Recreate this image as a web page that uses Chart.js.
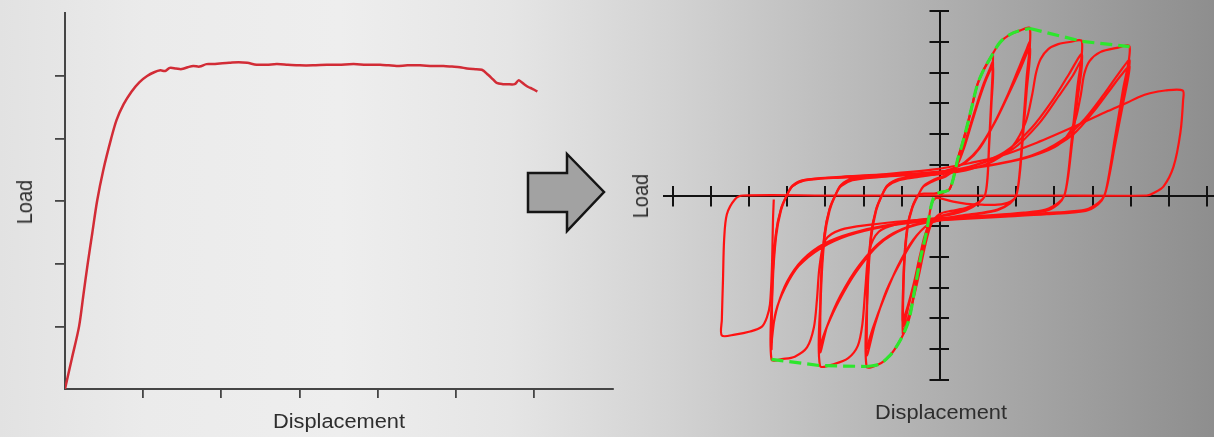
<!DOCTYPE html>
<html>
<head>
<meta charset="utf-8">
<title>Monotonic vs cyclic load–displacement</title>
<script src="https://cdn.jsdelivr.net/npm/chart.js@4.4.1/dist/chart.umd.min.js"></script>
<style>
  html, body { margin: 0; padding: 0; }
  body {
    width: 1214px; height: 437px; overflow: hidden; position: relative;
    background: linear-gradient(to right, #e2e2e2 0%, #ebebeb 12%, #eeeeee 28%, #e5e5e5 42%, #d3d3d3 55%, #bebebe 68%, #a8a8a8 82%, #8e8e8e 100%);
  }
  #monoBox { position: absolute; left: 0; top: 0; width: 620px; height: 437px; }
  #cycBox  { position: absolute; left: 620px; top: 0; width: 594px; height: 437px; }
  .lbl {
    position: absolute; font-family: "Liberation Sans", Arial, sans-serif;
    font-size: 20px; line-height: 20px; color: #2e2e2e; white-space: nowrap;
  }
  #arrow { position: absolute; left: 0; top: 0; pointer-events: none; }
</style>
</head>
<body>
<div id="monoBox"><canvas id="mono" width="620" height="437"></canvas></div>
<div id="cycBox"><canvas id="cyc" width="594" height="437"></canvas></div>

<div class="lbl" style="left:24px; top:202px; transform:translate(-50%,-50%) scaleX(1.09) rotate(-90deg);">Load</div>
<div class="lbl" style="left:339px; top:421px; transform:translate(-50%,-50%) scaleX(1.09);">Displacement</div>
<div class="lbl" style="left:640px; top:196px; transform:translate(-50%,-50%) scaleX(1.09) rotate(-90deg);">Load</div>
<div class="lbl" style="left:941px; top:412px; transform:translate(-50%,-50%) scaleX(1.09);">Displacement</div>

<svg id="arrow" width="1214" height="437">
  <polygon points="528,173 567,173 567,154 604,192 567,231 567,212 528,212"
           fill="#a2a2a2" stroke="#151515" stroke-width="2.5" stroke-linejoin="miter"/>
</svg>

<script>
// ---- Monotonic test: [displacement, load] in axis units ----
const monotonic = [
  [0,0],[0.09,0.5],[0.18,1.0],[0.235,1.5],[0.29,2.0],[0.35,2.5],[0.41,3.0],[0.49,3.5],[0.59,4.0],
  [0.66,4.3],[0.75,4.55],[0.85,4.75],[0.95,4.9],[1.05,5.0],[1.14,5.06],[1.22,5.09],[1.28,5.08],
  [1.34,5.13],[1.42,5.12],[1.49,5.11],[1.57,5.14],[1.64,5.16],[1.72,5.15],[1.81,5.19],[1.9,5.19],
  [1.98,5.2],[2.1,5.21],[2.22,5.22],[2.33,5.21],[2.45,5.18],[2.58,5.18],[2.71,5.19],[2.85,5.18],
  [3.0,5.17],[3.17,5.17],[3.35,5.18],[3.5,5.18],[3.69,5.19],[3.85,5.18],[4.03,5.18],[4.14,5.17],
  [4.24,5.16],[4.38,5.17],[4.54,5.17],[4.7,5.16],[4.84,5.16],[4.95,5.15],[5.05,5.14],[5.14,5.12],
  [5.22,5.11],[5.33,5.1],[5.41,5.02],[5.47,4.95],[5.52,4.89],[5.6,4.87],[5.65,4.87],[5.75,4.87],
  [5.8,4.93],[5.84,4.9],[5.88,4.86],[5.93,4.82],[5.97,4.8],[6.0,4.78],[6.04,4.75]
];
const monoXTicks = [1, 2, 3, 4, 5, 6];
const monoYTicks = [1, 2, 3, 4, 5];

// ---- Cyclic test record, split by displacement level: [displacement, load] ----
const level1 = [
  [0,0],[0.13,0.13],[0.25,0.2],[0.33,0.45],[0.4,0.8],[0.47,1.2],[0.58,1.65],[0.71,2.25],[0.84,2.9],[0.98,3.6],[1.15,4.1],[1.31,4.45],[1.39,4.6],
  [1.35,3.2],[1.29,1.75],[1.25,0.65],[1.18,0],[1.02,-0.22],[0.69,-0.4],[0.3,-0.5],[0,-0.6],[-0.22,-0.92],[-0.38,-1.6],[-0.55,-2.6],[-0.72,-3.5],[-0.87,-4.15],[-0.97,-4.5],
  [-0.94,-2.5],[-0.85,-1.1],[-0.72,-0.4],[-0.57,0],[-0.42,0.3],[-0.12,0.5],[0.15,0.62],[0.38,0.85],[0.55,1.3],[0.75,2.1],[0.95,2.9],[1.15,3.65],[1.3,4.1],[1.39,4.35],
  [1.35,3.05],[1.29,1.65],[1.25,0.6],[1.18,0],[1.02,-0.22],[0.69,-0.45],[0.3,-0.58],[-0.05,-0.7],[-0.3,-1.05],[-0.48,-1.8],[-0.65,-2.7],[-0.8,-3.5],[-0.97,-4.25],
  [-0.94,-2.35],[-0.85,-1.05],[-0.72,-0.38],[-0.57,0],[-0.42,0.32],[-0.12,0.54],[0.15,0.66],[0.42,0.92],[0.62,1.5],[0.82,2.3],[1.02,3.1],[1.22,3.8],[1.39,4.2],
  [1.35,2.95],[1.29,1.6],[1.25,0.59],[1.18,0],[1.02,-0.24],[0.69,-0.48],[0.3,-0.62],[-0.1,-0.74],[-0.35,-1.15],[-0.52,-1.95],[-0.68,-2.85],[-0.84,-3.6],[-0.97,-4.1]
];
const level2 = [
  [-0.97,-4.1],
  [-0.94,-2.25],[-0.85,-1.0],[-0.72,-0.37],[-0.57,0],[-0.4,0.06],[-0.15,0.06],[0,0.1],[0.13,0.13],[0.25,0.2],[0.33,0.45],[0.4,0.8],[0.47,1.2],[0.58,1.65],[0.71,2.25],[0.84,2.9],[0.98,3.6],[1.15,4.1],[1.31,4.45],[1.57,4.98],[1.83,5.24],[2.09,5.37],[2.36,5.44],
  [2.27,3.8],[2.17,2.07],[2.09,0.76],[2.0,0],[1.84,-0.2],[1.51,-0.3],[1.1,-0.3],[0.7,-0.27],[0.35,-0.2],[0.1,-0.12],[-0.1,-0.08],[-0.21,-0.25],[-0.28,-0.68],[-0.37,-1.3],[-0.5,-2.0],[-0.65,-3.0],[-0.8,-4.0],[-0.95,-4.5],[-1.1,-4.85],[-1.3,-5.2],[-1.6,-5.5],[-1.92,-5.57],
  [-1.89,-3.06],[-1.8,-1.39],[-1.67,-0.5],[-1.52,0],[-1.37,0.3],[-1.07,0.5],[-0.6,0.6],[-0.1,0.7],[0.3,0.84],[0.65,1.08],[1.0,1.5],[1.4,2.3],[1.75,3.2],[2.05,4.1],[2.25,4.7],[2.36,5.0],
  [2.27,3.5],[2.17,1.9],[2.09,0.7],[2.0,0],[1.84,-0.24],[1.51,-0.46],[1.0,-0.58],[0.5,-0.66],[0.1,-0.76],[-0.25,-0.9],[-0.6,-1.3],[-1.0,-2.1],[-1.4,-3.1],[-1.7,-4.2],[-1.92,-5.2],
  [-1.89,-2.86],[-1.8,-1.3],[-1.67,-0.47],[-1.52,0],[-1.37,0.32],[-1.07,0.52],[-0.6,0.63],[-0.1,0.72],[0.3,0.86],[0.7,1.1],[1.05,1.55],[1.45,2.4],[1.8,3.3],[2.1,4.1],[2.36,4.8],
  [2.27,3.36],[2.17,1.82],[2.09,0.67],[2.0,0],[1.84,-0.26],[1.51,-0.48],[1.0,-0.6],[0.5,-0.68],[0.05,-0.79],[-0.3,-0.94],[-0.7,-1.45],[-1.1,-2.3],[-1.45,-3.3],[-1.75,-4.3],[-1.92,-5.0]
];
const level3 = [
  [-1.92,-5.0],
  [-1.89,-2.75],[-1.8,-1.25],[-1.67,-0.45],[-1.52,0],[-1.37,0.33],[-1.07,0.54],[-0.5,0.64],[0.2,0.72],[0.8,0.86],[1.4,1.12],[1.9,1.6],[2.25,2.4],[2.42,3.3],[2.52,4.0],[2.64,4.45],[2.84,4.77],[3.1,4.93],[3.4,5.0],[3.72,5.02],
  [3.6,3.51],[3.46,1.91],[3.36,0.7],[3.26,0],[3.1,-0.24],[2.77,-0.46],[2.2,-0.56],[1.4,-0.64],[0.5,-0.7],[-0.4,-0.77],[-1.1,-0.92],[-1.6,-1.18],[-1.85,-1.8],[-1.95,-3.0],[-2.03,-4.2],[-2.15,-4.9],[-2.4,-5.3],[-2.75,-5.48],[-3.14,-5.54],
  [-3.11,-3.05],[-3.02,-1.39],[-2.89,-0.5],[-2.74,0],[-2.59,0.3],[-2.29,0.5],[-1.6,0.6],[-0.8,0.67],[0.1,0.77],[0.9,0.98],[1.7,1.42],[2.4,2.2],[2.95,3.1],[3.38,3.95],[3.72,4.6],
  [3.6,3.22],[3.46,1.75],[3.36,0.64],[3.26,0],[3.1,-0.26],[2.77,-0.48],[2.0,-0.6],[1.0,-0.7],[0,-0.8],[-0.8,-1.0],[-1.5,-1.45],[-2.1,-2.25],[-2.6,-3.25],[-2.95,-4.25],[-3.14,-5.1],
  [-3.11,-2.8],[-3.02,-1.28],[-2.89,-0.46],[-2.74,0],[-2.59,0.32],[-2.29,0.52],[-1.5,0.62],[-0.6,0.7],[0.3,0.82],[1.1,1.05],[1.9,1.5],[2.6,2.35],[3.12,3.25],[3.48,3.9],[3.72,4.4],
  [3.6,3.08],[3.46,1.67],[3.36,0.62],[3.26,0],[3.1,-0.28],[2.77,-0.5],[1.9,-0.62],[0.8,-0.72],[-0.1,-0.83],[-0.9,-1.07],[-1.6,-1.6],[-2.2,-2.5],[-2.65,-3.45],[-2.95,-4.25],[-3.14,-4.9]
];
const level4 = [
  [-3.14,-4.9],
  [-3.11,-2.7],[-3.02,-1.23],[-2.89,-0.44],[-2.74,0],[-2.59,0.34],[-2.29,0.55],[-1.5,0.65],[-0.5,0.72],[0.5,0.84],[1.5,1.02],[2.4,1.28],[3.1,1.65],[3.5,2.3],[3.68,3.2],[3.78,3.95],[3.92,4.38],[4.2,4.67],[4.6,4.8],[4.97,4.85],
  [4.79,3.4],[4.58,1.84],[4.43,0.68],[4.31,0],[4.15,-0.24],[3.82,-0.46],[3.1,-0.55],[2.1,-0.62],[1.1,-0.68],[0.1,-0.75],[-0.9,-0.83],[-1.8,-0.95],[-2.6,-1.12],[-3.0,-1.45],[-3.15,-2.3],[-3.22,-3.4],[-3.3,-4.3],[-3.48,-4.95],[-3.8,-5.25],[-4.1,-5.32],[-4.41,-5.34],
  [-4.38,-2.94],[-4.29,-1.34],[-4.16,-0.48],[-4.01,0],[-3.86,0.3],[-3.56,0.48],[-2.8,0.57],[-1.7,0.63],[-0.6,0.7],[0.4,0.82],[1.4,1.0],[2.4,1.3],[3.2,1.8],[3.8,2.5],[4.3,3.3],[4.7,4.0],[4.97,4.4],
  [4.79,3.08],[4.58,1.67],[4.43,0.62],[4.31,0],[4.15,-0.26],[3.82,-0.48],[2.9,-0.59],[1.9,-0.66],[0.8,-0.73],[-0.3,-0.81],[-1.4,-0.97],[-2.3,-1.22],[-3.0,-1.55],[-3.6,-2.1],[-4.0,-2.8],[-4.25,-3.6],[-4.38,-4.4],[-4.41,-5.0],
  [-4.38,-2.75],[-4.29,-1.25],[-4.16,-0.45],[-4.01,0],[-3.86,0.32],[-3.56,0.5],[-2.7,0.59],[-1.6,0.66],[-0.4,0.74],[0.7,0.88],[1.7,1.08],[2.7,1.42],[3.5,2.0],[4.1,2.85],[4.55,3.6],[4.8,4.0],[4.97,4.2],
  [4.79,2.94],[4.58,1.6],[4.43,0.59],[4.31,0],[4.15,-0.28],[3.82,-0.5],[2.8,-0.61],[1.7,-0.69],[0.5,-0.77],[-0.5,-0.85],[-1.5,-1.02],[-2.4,-1.3],[-3.1,-1.7],[-3.7,-2.3],[-4.05,-3.0],[-4.3,-3.8],[-4.41,-4.8]
];
const level5 = [
  [-4.41,-4.8],
  [-4.38,-2.64],[-4.29,-1.2],[-4.16,-0.43],[-4.01,0],[-3.86,0.3],[-3.56,0.5],[-2.7,0.6],[-1.4,0.7],[-0.2,0.84],[0.8,1.06],[1.54,1.27],[2.54,1.72],[3.53,2.25],[4.4,2.75],[4.9,3.02],[5.2,3.2],[5.5,3.33],[5.9,3.42],[6.36,3.42],
  [6.37,3.1],[6.3,2.05],[6.12,0.94],[5.86,0.3],[5.6,0.08],[5.42,0],[3,0],[0,0],[-3,0],[-5.16,0],[-5.37,-0.13],[-5.58,-0.62],[-5.65,-1.43],[-5.68,-2.74],[-5.71,-4.04],[-5.71,-4.56],
  [-5.37,-4.53],[-4.97,-4.43],[-4.66,-4.27],[-4.53,-3.97],[-4.45,-3.55],[-4.4,-2.41],[-4.37,-0.78],[-4.35,-0.13]
];

// ---- Envelope (backbone) curve: [displacement, load] ----
const envelopeNeg = [[-4.41,-5.34],[-3.14,-5.54],[-1.92,-5.57]];
const envelopeCore = [
  [-1.92,-5.57],[-1.6,-5.5],[-1.3,-5.2],[-1.1,-4.85],[-0.95,-4.5],[-0.8,-4.0],[-0.65,-3.0],[-0.5,-2.0],[-0.37,-1.3],
  [-0.28,-0.68],[-0.21,-0.25],[-0.12,0.02],[0,0.1],[0.13,0.13],[0.25,0.2],[0.33,0.45],[0.4,0.8],[0.47,1.2],[0.58,1.65],
  [0.71,2.25],[0.84,2.9],[0.98,3.6],[1.15,4.1],[1.31,4.45],[1.57,4.98],[1.83,5.24],[2.09,5.37],[2.36,5.44]
];
const envelopePos = [[2.36,5.44],[3.72,5.02],[4.97,4.85]];

const cycXTicks = [-7,-6,-5,-4,-3,-2,-1,0,1,2,3,4,5,6,7];
const cycYTicks = [-6,-5,-4,-3,-2,-1,0,1,2,3,4,5,6];

// ---- helpers ----
const toPoints = arr => arr.map(([x, y]) => ({x, y}));
const setTicks = values => scale => { scale.ticks = values.map(v => ({value: v})); };
const baseOptions = {
  responsive: false, animation: false, devicePixelRatio: 1, events: [],
  plugins: {legend: {display: false}, tooltip: {enabled: false}}
};

// ---- Left: monotonic curve ----
const monoAxis = '#454545';
new Chart(document.getElementById('mono'), {
  type: 'scatter',
  data: {datasets: [{
    data: toPoints(monotonic), showLine: true, pointRadius: 0,
    borderColor: 'rgb(210,44,54)', borderWidth: 2.5, tension: 0.3
  }]},
  options: Object.assign({}, baseOptions, {
    layout: {padding: {left: 0, right: 7.6, top: 13.4, bottom: 0}},
    scales: {
      x: {type: 'linear', position: 'bottom', min: 0, max: 7,
          afterBuildTicks: setTicks(monoXTicks),
          afterFit: s => { s.height = 48; },
          ticks: {display: false},
          grid: {drawOnChartArea: false, drawTicks: true, tickLength: 9, color: monoAxis, lineWidth: 1.8},
          border: {color: monoAxis, width: 2}},
      y: {type: 'linear', position: 'left', min: 0, max: 6,
          afterBuildTicks: setTicks(monoYTicks),
          afterFit: s => { s.width = 65; },
          ticks: {display: false},
          grid: {drawOnChartArea: false, drawTicks: true, tickLength: 10, color: monoAxis, lineWidth: 1.8},
          border: {color: monoAxis, width: 2}}
    }
  })
});

// ---- Right: cyclic hysteresis loops ----
const cycAxis = '#121212';
const crossGrid = {drawOnChartArea: false, drawTicks: true, tickLength: 9.5, color: cycAxis, lineWidth: 2};
const red = 'rgb(255,18,18)';
const redLine = lvl => ({
  data: toPoints(lvl), showLine: true, pointRadius: 0,
  borderColor: red, borderWidth: 2.2, tension: 0.3, xAxisID: 'x', yAxisID: 'y'
});
const greenLine = (pts, tension) => ({
  data: toPoints(pts), showLine: true, pointRadius: 0,
  borderColor: 'rgb(45,230,45)', borderWidth: 3.2, borderDash: [12, 6],
  tension: tension, xAxisID: 'x', yAxisID: 'y'
});

new Chart(document.getElementById('cyc'), {
  type: 'scatter',
  data: {datasets: [
    greenLine(envelopeNeg, 0), greenLine(envelopeCore, 0.35), greenLine(envelopePos, 0),
    redLine(level1), redLine(level2), redLine(level3), redLine(level4), redLine(level5)
  ]},
  options: Object.assign({}, baseOptions, {
    layout: {padding: {left: 44.2, right: 0, top: 11.3, bottom: 57.3}},
    scales: {
      x: {type: 'linear', axis: 'x', min: -7.22, max: 7.18, position: {y: 0},
          afterBuildTicks: setTicks(cycXTicks), ticks: {display: false},
          grid: crossGrid, border: {color: cycAxis, width: 2}},
      xUpper: {type: 'linear', axis: 'x', min: -7.22, max: 7.18, position: {y: 0.31},
          afterBuildTicks: setTicks(cycXTicks), ticks: {display: false},
          grid: crossGrid, border: {display: false}},
      y: {type: 'linear', axis: 'y', min: -6, max: 6, position: {x: 0},
          afterBuildTicks: setTicks(cycYTicks), ticks: {display: false},
          grid: crossGrid, border: {color: cycAxis, width: 2}},
      yRight: {type: 'linear', axis: 'y', min: -6, max: 6, position: {x: 0.25},
          afterBuildTicks: setTicks(cycYTicks), ticks: {display: false},
          grid: crossGrid, border: {display: false}}
    }
  })
});
</script>
</body>
</html>
